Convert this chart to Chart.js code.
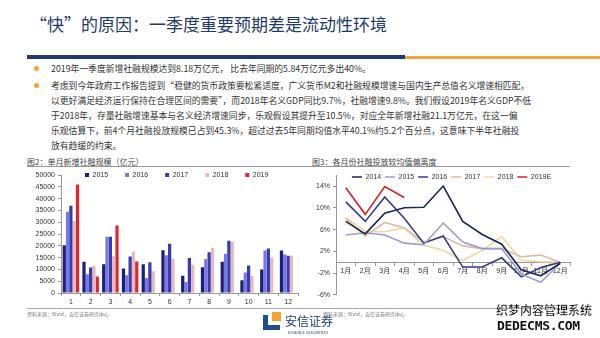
<!DOCTYPE html>
<html>
<head>
<meta charset="utf-8">
<script src="https://cdn.jsdelivr.net/npm/chart.js@4.4.1/dist/chart.umd.min.js"></script>
<style>
  body { margin: 0; width: 600px; height: 338px; overflow: hidden; background: #fff; position: relative;
         font-family: "Noto Sans CJK SC", sans-serif; }
  .a { position: absolute; white-space: nowrap; }
  #title { left: 30px; top: 11px; font-size: 17px; line-height: 26px; color: #1f3b68; }
  .txt { left: 51px; font-size: 8.8px; line-height: 12px; color: #333; }
  .dot { width: 5px; height: 5px; border-radius: 50%; background: #f0a33a; left: 34px; }
  .ctitle { font-size: 8px; line-height: 10px; color: #444; top: 157px; }
  .src { font-size: 5px; line-height: 6px; color: #777; top: 311px; }
  canvas { position: absolute; }
</style>
</head>
<body>
<div class="a" id="title">“快”的原因：一季度重要预期差是流动性环境</div>
<div class="a" style="left:27px;top:55px;width:378px;height:4px;background:#1f3b6e"></div>
<div class="a" style="left:405px;top:56px;width:195px;height:3px;background:#f2a43a"></div>

<div class="a dot" style="top:66px"></div>
<div class="a txt" style="top:63px">2019年一季度新增社融规模达到8.18万亿元， 比去年同期的5.84万亿元多出40%。</div>
<div class="a dot" style="top:83px"></div>
<div class="a txt" style="top:80px">考虑到今年政府工作报告提到“稳健的货币政策要松紧适度，广义货币M2和社融规模增速与国内生产总值名义增速相匹配，</div>
<div class="a txt" style="top:95px">以更好满足经济运行保持在合理区间的需要”，而2018年名义GDP同比9.7%，社融增速9.8%。我们假设2019年名义GDP不低</div>
<div class="a txt" style="top:110px">于2018年，存量社融增速基本与名义经济增速同步，乐观假设其提升至10.5%，对应全年新增社融21.1万亿元，在这一偏</div>
<div class="a txt" style="top:125px">乐观估算下，前4个月社融投放规模已占到45.3%，超过过去5年同期均值水平40.1%约5.2个百分点，这意味下半年社融投</div>
<div class="a txt" style="top:140px">放有趋缓的约束。</div>

<div class="a ctitle" style="left:27px">图2：单月新增社融规模（亿元）</div>
<div class="a ctitle" style="left:312px">图3：各月份社融投放较均值偏离度</div>
<div class="a" style="left:27px;top:166px;width:543px;height:1px;background:#999"></div>

<canvas id="c1" width="300" height="139" style="left:0;top:168px"></canvas>
<canvas id="c2" width="275" height="134" style="left:300px;top:168px"></canvas>

<div class="a" style="left:27px;top:308px;width:548px;height:1px;background:#aaa"></div>
<div class="a src" style="left:27px">资料来源：Wind，安信证券研究中心</div>
<div class="a src" style="left:323px">资料来源：Wind，安信证券研究中心</div>

<div class="a" style="left:263px;top:315px;width:5px;height:15px;background:#1f4f8f"></div>
<div class="a" style="left:263px;top:325px;width:17px;height:5px;background:#1f4f8f"></div>
<div class="a" style="left:272px;top:312px;width:9px;height:9px;background:#f2a43a"></div>
<div class="a" style="left:285px;top:313px;font-size:12px;line-height:16px;color:#1f3b68">安信证券</div>
<div class="a" style="left:288px;top:330px;font-size:4px;line-height:5px;color:#1f3b68">ESSENCE SECURITIES</div>

<div class="a" style="left:496px;top:303px;font-size:12px;line-height:14px;font-weight:bold;color:#111;-webkit-text-stroke:0.3px #fff">织梦内容管理系统</div>
<div class="a" style="left:497px;top:318px;font-size:13px;line-height:15px;font-weight:bold;color:#111;font-family:'DejaVu Sans Mono',monospace;letter-spacing:-0.3px">DEDECMS.COM</div>

<script>
// chart 2 (left): monthly new social financing, 100 million yuan
const months = ['1', '2', '3', '4', '5', '6', '7', '8', '9', '10', '11', '12'];
const barYears = ['2015', '2016', '2017', '2018', '2019'];
const tsf2015 = [20300, 13300, 12200, 10400, 12200, 18100, 7300, 10900, 13300, 5400, 10000, 18000];
const tsf2016 = [34500, 8000, 23900, 7500, 6400, 16000, 4700, 14400, 16700, 8700, 18000, 16300];
const tsf2017 = [37000, 10800, 23900, 15500, 13000, 20900, 14900, 17300, 22200, 11700, 18900, 15800];
const tsf2018 = [30600, 11500, 15600, 17600, 9200, 14500, 12000, 19200, 21800, 7200, 15100, 15800];
const tsf2019 = [46000, 7000, 28600, 13400];
const barColors = ['#1b1f78', '#7777e6', '#3a3cae', '#e6baba', '#e0262c'];

// chart 3 (right): deviation from monthly mean, %
const monthLabels = ['1月', '2月', '3月', '4月', '5月', '6月', '7月', '8月', '9月', '10月', '11月', '12月'];
const lineYears = ['2014', '2015', '2016', '2017', '2018', '2019E'];
const dev2014 = [7.5, 5.2, 9.0, 10.0, 10.1, 14.0, 7.5, 5.1, 3.3, -1.4, -2.5, -0.2];
const dev2015 = [5.0, 5.4, 5.0, 3.5, 3.2, 7.2, 3.7, 2.5, 2.5, -2.2, -3.7, -0.2];
const dev2016 = [11.1, 7.5, 12.0, 8.1, 3.5, 4.8, -0.9, -0.9, 0.8, -2.7, -1.0, 0];
const dev2017 = [8.0, 4.8, 7.3, 6.3, 3.7, 4.7, 3.0, 2.5, 2.5, 1.0, 1.3, 0];
const dev2018 = [8.2, 5.7, 5.6, 6.3, 3.1, 2.2, 0.3, 2.2, 4.7, 0.3, 0.1, 0];
const dev2019 = [13.7, 8.8, 13.9, 11.9];
const lineColors = ['#1e2458', '#9c9ccc', '#363c84', '#d6bcaa', '#ecdba0', '#c8252c'];

Chart.defaults.font.family = '"Liberation Sans", "Noto Sans CJK SC", sans-serif';
Chart.defaults.font.size = 7;
Chart.defaults.color = '#333';

// put the legend row at a fixed spot inside the plot (canvas coords)
const legendAt = {
  id: 'legendAt',
  afterLayout(chart, args, opts) {
    const lg = chart.legend, p = lg.options.labels.padding;
    lg.left = opts.x - p;
    lg.top = opts.y - p;
    lg.right = chart.width;
    lg.bottom = lg.top + p + 20;
  }
};

const barSeries = [tsf2015, tsf2016, tsf2017, tsf2018, tsf2019];
new Chart(document.getElementById('c1'), {
  type: 'bar',
  data: {
    labels: months,
    datasets: barYears.map((y, i) => ({
      label: y,
      data: barSeries[i],
      backgroundColor: barColors[i],
      borderWidth: 0,
      categoryPercentage: 0.84,
      barPercentage: 0.98
    }))
  },
  options: {
    responsive: false,
    animation: false,
    layout: { padding: { top: 4, right: 2, left: 0, bottom: 0 } },
    plugins: {
      legend: {
        align: 'start',
        maxHeight: 1,
        labels: { boxWidth: 4, boxHeight: 4, padding: 17, color: '#333', font: { size: 7 } }
      },
      legendAt: { x: 85, y: 3.5 },
      tooltip: { enabled: false }
    },
    scales: {
      x: {
        grid: { drawOnChartArea: false, offset: true, tickLength: 3, color: '#999' },
        border: { color: '#999' },
        ticks: { padding: 2, maxRotation: 0, autoSkip: false },
        afterFit: s => { s.height = 14; }
      },
      y: {
        min: 0,
        max: 50000,
        ticks: { stepSize: 5000, padding: 3, callback: v => String(v) },
        grid: { drawOnChartArea: false, tickLength: 3, color: '#999' },
        border: { color: '#999' },
        afterFit: s => { s.width = 61; }
      }
    }
  },
  plugins: [legendAt]
});

const lineSeries = [dev2014, dev2015, dev2016, dev2017, dev2018, dev2019];
new Chart(document.getElementById('c2'), {
  type: 'line',
  data: {
    labels: monthLabels,
    datasets: lineYears.map((y, i) => ({
      label: y,
      data: lineSeries[i],
      borderColor: lineColors[i],
      backgroundColor: lineColors[i],
      borderWidth: 1.6,
      pointRadius: 0,
      fill: false,
      tension: 0
    }))
  },
  options: {
    responsive: false,
    animation: false,
    layout: { padding: { top: 5, right: 5, left: 0, bottom: 4 } },
    plugins: {
      legend: {
        align: 'start',
        maxHeight: 1,
        labels: { usePointStyle: true, pointStyle: 'line', pointStyleWidth: 10, padding: 4, color: '#333', font: { size: 7 } }
      },
      legendAt: { x: 52, y: 5.5 },
      tooltip: { enabled: false }
    },
    scales: {
      x: {
        position: { y: 0 },
        offset: true,
        grid: { drawOnChartArea: false, offset: true, tickLength: 3, color: '#999' },
        border: { color: '#999' },
        ticks: { padding: 2, maxRotation: 0, autoSkip: false }
      },
      y: {
        min: -6,
        max: 16,
        ticks: { stepSize: 2, padding: 3, callback: v => v + '%' },
        grid: { drawOnChartArea: false, tickLength: 3, color: '#999' },
        border: { color: '#999' },
        afterFit: s => { s.width = 36; }
      }
    }
  },
  plugins: [legendAt]
});
</script>
</body>
</html>
